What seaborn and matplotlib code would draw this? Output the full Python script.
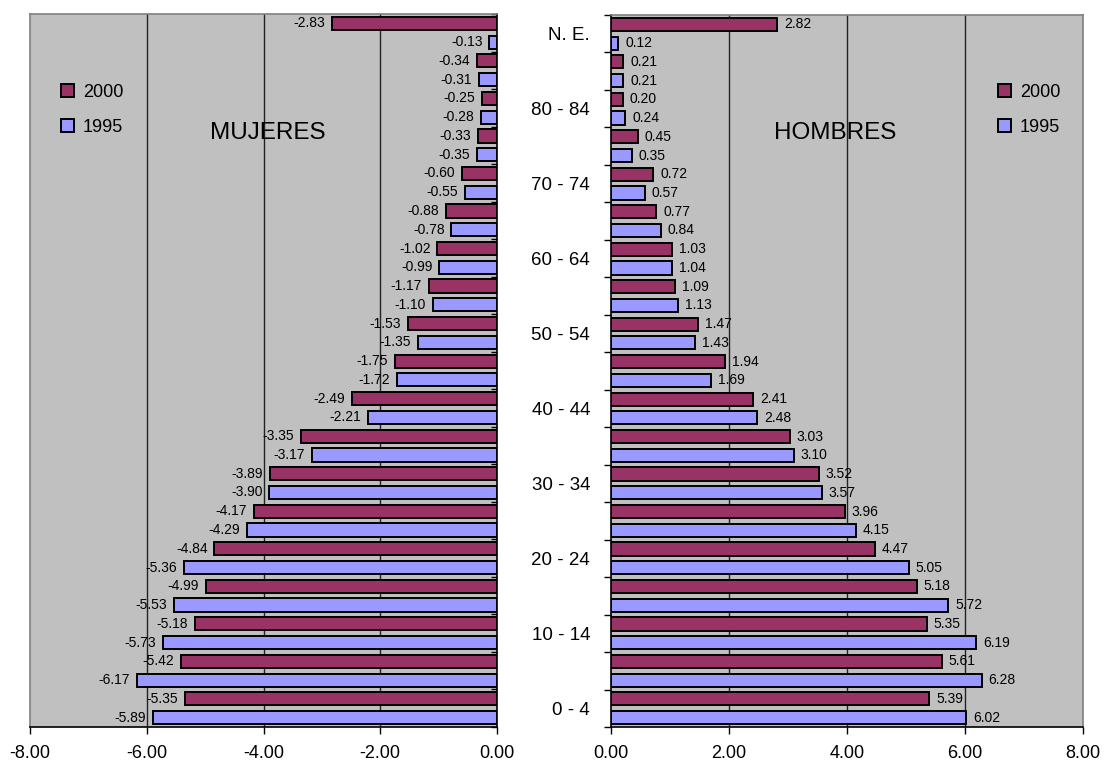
import matplotlib
matplotlib.use("Agg")
import matplotlib.pyplot as plt
import matplotlib.ticker as mticker
import seaborn as sns
import pandas as pd
import numpy as np

# Grupos quinquenales de edad, de menor a mayor
grupos = ["0 - 4", "5 - 9", "10 - 14", "15 - 19", "20 - 24", "25 - 29",
          "30 - 34", "35 - 39", "40 - 44", "45 - 49", "50 - 54", "55 - 59",
          "60 - 64", "65 - 69", "70 - 74", "75 - 79", "80 - 84", "85 y más",
          "N. E."]
anios = ["2000", "1995"]

# Porcentaje de población por grupo (mujeres en negativo)
mujeres_2000 = [-5.35, -5.42, -5.18, -4.99, -4.84, -4.17, -3.89, -3.35, -2.49,
                -1.75, -1.53, -1.17, -1.02, -0.88, -0.60, -0.33, -0.25, -0.34,
                -2.83]
mujeres_1995 = [-5.89, -6.17, -5.73, -5.53, -5.36, -4.29, -3.90, -3.17, -2.21,
                -1.72, -1.35, -1.10, -0.99, -0.78, -0.55, -0.35, -0.28, -0.31,
                -0.13]
hombres_2000 = [5.39, 5.61, 5.35, 5.18, 4.47, 3.96, 3.52, 3.03, 2.41, 1.94,
                1.47, 1.09, 1.03, 0.77, 0.72, 0.45, 0.20, 0.21, 2.82]
hombres_1995 = [6.02, 6.28, 6.19, 5.72, 5.05, 4.15, 3.57, 3.10, 2.48, 1.69,
                1.43, 1.13, 1.04, 0.84, 0.57, 0.35, 0.24, 0.21, 0.12]

ticks_x_m = [-8, -6, -4, -2, 0]
ticks_x_h = [0, 2, 4, 6, 8]


def tabla(v2000, v1995):
    return pd.DataFrame({
        "grupo": grupos * 2,
        "año": ["2000"] * len(grupos) + ["1995"] * len(grupos),
        "valor": list(v2000) + list(v1995),
    })


sns.set_theme(style="white")
plt.rcParams["font.family"] = ["Liberation Sans", "DejaVu Sans"]
for k in ["text.color", "axes.labelcolor", "xtick.color", "ytick.color"]:
    plt.rcParams[k] = "black"

W, H = 1105, 764
fig = plt.figure(figsize=(W / 100, H / 100), dpi=100)
fig.patch.set_facecolor("white")


def rect(x0, y0, x1, y1):
    return [x0 / W, 1 - y1 / H, (x1 - x0) / W, (y1 - y0) / H]


ax_m = fig.add_axes(rect(30, 14, 497, 727))
ax_h = fig.add_axes(rect(611, 15, 1083, 727))

colores = {"2000": "#993366", "1995": "#9999FF"}
orden = grupos[::-1]  # N.E. arriba, 0 - 4 abajo

for ax, datos, lims, ticks in [
    (ax_m, tabla(mujeres_2000, mujeres_1995), (-8, 0), ticks_x_m),
    (ax_h, tabla(hombres_2000, hombres_1995), (0, 8), ticks_x_h),
]:
    ax.set_facecolor("#C0C0C0")
    sns.barplot(data=datos, y="grupo", x="valor", hue="año", order=orden,
                hue_order=anios, palette=colores, saturation=1, width=1.0,
                gap=0.3, edgecolor="black", linewidth=1.4, errorbar=None,
                ax=ax, zorder=3)
    for cont in ax.containers:
        ax.bar_label(cont, fmt="%.2f", padding=5, fontsize=10, color="black")
    ax.set_xlim(*lims)
    ax.set_ylim(len(grupos) - 0.5, -0.5)
    ax.set_xticks(ticks)
    ax.xaxis.set_major_formatter(mticker.FormatStrFormatter("%.2f"))
    ax.tick_params(axis="x", which="major", direction="out", length=5,
                   width=1, color="black", pad=8, labelsize=13,
                   labelcolor="black", bottom=True)
    for t in ticks[1:-1]:
        ax.axvline(t, color="#222222", lw=1.0, zorder=1)
    ax.set_xlabel("")
    ax.set_ylabel("")
    for s in ax.spines.values():
        s.set_linewidth(1.2)
    ax.legend_.remove()

# Panel de mujeres: eje de categorías a la derecha, sin etiquetas
ax_m.yaxis.set_ticks_position("right")
ax_m.set_yticks(range(len(grupos)))
ax_m.set_yticklabels([])
ax_m.tick_params(axis="y", which="major", length=0)
ax_m.set_yticks(np.arange(len(grupos) + 1) - 0.5, minor=True)
ax_m.tick_params(axis="y", which="minor", direction="in", length=4,
                 width=1, color="black", right=True)
ax_m.spines["left"].set_color("#808080")
ax_m.spines["top"].set_color("#808080")
ax_m.spines["right"].set_color("black")
ax_m.spines["bottom"].set_color("black")

# Panel de hombres: etiquetas de edad alternadas
ax_h.set_yticks(range(len(grupos)))
etiquetas = [g if i % 2 == 0 else "" for i, g in enumerate(orden)]
ax_h.set_yticklabels(etiquetas)
ax_h.tick_params(axis="y", which="major", length=0, pad=15, labelsize=13.5,
                 labelcolor="black")
ax_h.set_yticks(np.arange(len(grupos) + 1) - 0.5, minor=True)
ax_h.tick_params(axis="y", which="minor", direction="out", length=5,
                 width=1, color="black", left=True)
ax_h.spines["right"].set_color("#808080")
ax_h.spines["top"].set_color("#808080")
ax_h.spines["left"].set_color("black")
ax_h.spines["bottom"].set_color("black")

# Títulos de cada panel
fig.text(268 / W, 1 - 133 / H, "MUJERES", fontsize=17.5, ha="center",
         va="center", color="black")
fig.text(835 / W, 1 - 133 / H, "HOMBRES", fontsize=17.5, ha="center",
         va="center", color="black")

# Leyendas
for x_px in [52, 989]:
    handles = [plt.Rectangle((0, 0), 1, 1, facecolor=colores[a],
                             edgecolor="black", linewidth=1.4) for a in anios]
    fig.legend(handles, anios, loc="center left",
               bbox_to_anchor=(x_px / W, 1 - 110 / H), frameon=False,
               fontsize=13, handlelength=0.7, handleheight=0.7,
               handletextpad=0.5, labelspacing=1.0, borderpad=0)

fig.savefig("out.png", dpi=100)
